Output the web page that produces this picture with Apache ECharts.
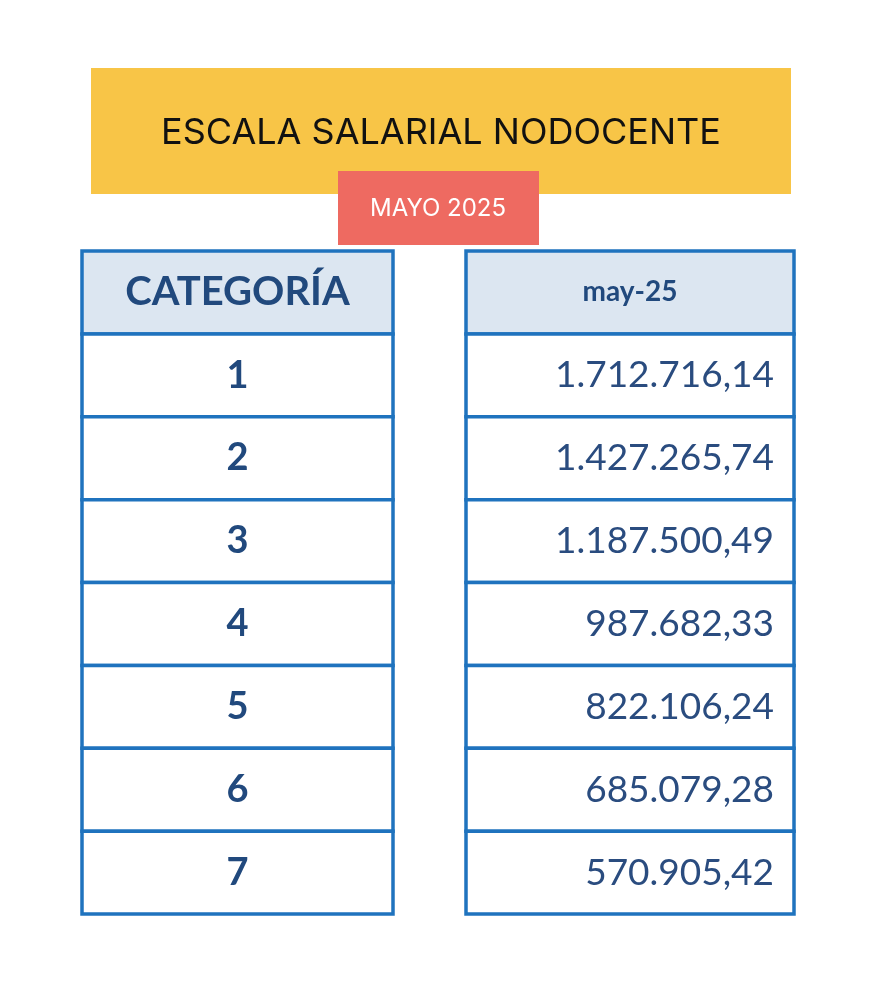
<!DOCTYPE html>
<html>
<head>
<meta charset="utf-8">
<script src="https://cdn.jsdelivr.net/npm/echarts@6/dist/echarts.min.js"></script>
<style>html,body{margin:0;background:#fff}#c{width:890px;height:987px}</style>
</head>
<body>
<div id="c"></div>
<script>
var title = 'ESCALA SALARIAL NODOCENTE';
var subtitle = 'MAYO 2025';
var headers = ['CATEGORÍA', 'may-25'];
var categories = ['1', '2', '3', '4', '5', '6', '7'];
var salaries = ['1.712.716,14', '1.427.265,74', '1.187.500,49', '987.682,33', '822.106,24', '685.079,28', '570.905,42'];

// column extents in x-axis units (grid is 712 wide)
var colSpans = [[0, 311], [384, 712]];
var rows = ['h'].concat(categories);

var data = [];
rows.forEach(function (r, i) {
  data.push([0, i, i === 0 ? headers[0] : categories[i - 1]]);
  data.push([1, i, i === 0 ? headers[1] : salaries[i - 1]]);
});

function renderItem(params, api) {
  var col = api.value(0), row = api.value(1), text = data[params.dataIndex][2];
  var span = colSpans[col];
  var p0 = api.coord([span[0], row]);
  var p1 = api.coord([span[1], row]);
  var h = api.size([0, 1])[1];
  var x = p0[0], y = p0[1] - h / 2, w = p1[0] - p0[0];
  var header = row === 0;
  var textCfg;
  if (header) {
    textCfg = {x: x + w / 2, y: y + h / 2, text: text, align: 'center', verticalAlign: 'middle',
      fill: '#21497d', font: 'bold ' + (col === 0 ? 40 : 28) + 'px Lato'};
  } else if (col === 0) {
    textCfg = {x: x + w / 2, y: y + h / 2, text: text, align: 'center', verticalAlign: 'middle',
      fill: '#21497d', font: 'bold 38px Lato'};
  } else {
    textCfg = {x: x + w - 20, y: y + h / 2, text: text, align: 'right', verticalAlign: 'middle',
      fill: '#2a4c7f', font: '37px Lato'};
  }
  return {
    type: 'group',
    children: [
      {type: 'rect', shape: {x: x, y: y, width: w, height: h},
        style: {fill: header ? '#dce6f1' : '#ffffff', stroke: '#1f73be', lineWidth: 3.5}},
      {type: 'text', style: textCfg}
    ]
  };
}

var option = {
  animation: false,
  grid: {left: 82, width: 712, top: 251, height: 663},
  xAxis: {type: 'value', min: 0, max: 712, show: false},
  yAxis: {type: 'category', data: rows, inverse: true, show: false},
  graphic: [
    {type: 'rect', shape: {x: 91, y: 68, width: 700, height: 126}, style: {fill: '#f8c547'}},
    {type: 'text', x: 441, y: 133, style: {text: title, align: 'center', verticalAlign: 'middle',
      font: '36px Inter', fill: '#111'}},
    {type: 'rect', shape: {x: 338, y: 171, width: 201, height: 74}, style: {fill: '#ee6a61'}},
    {type: 'text', x: 438, y: 209, style: {text: subtitle, align: 'center', verticalAlign: 'middle',
      font: '24px Inter', fill: '#fff'}}
  ],
  series: [{type: 'custom', renderItem: renderItem, data: data, clip: false}]
};

var chart = echarts.init(document.getElementById('c'));
chart.setOption(option);
</script>
</body>
</html>
